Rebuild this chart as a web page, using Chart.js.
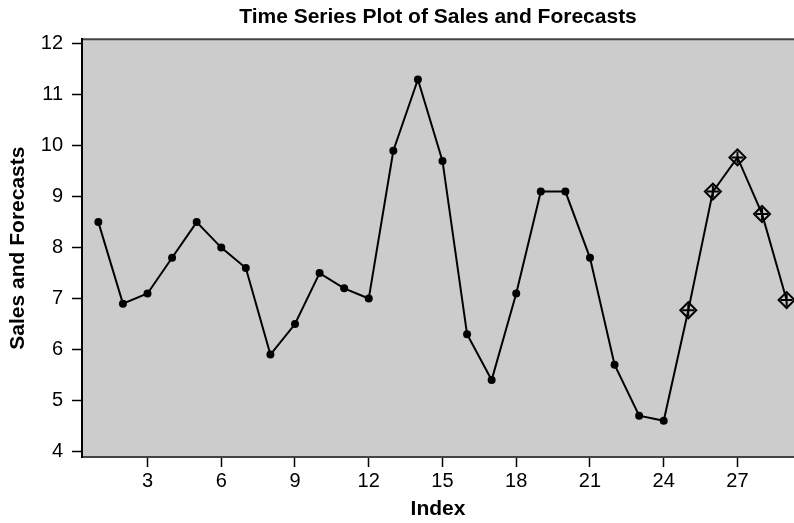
<!DOCTYPE html>
<html><head><meta charset="utf-8">
<script src="https://cdn.jsdelivr.net/npm/chart.js@4"></script>
<style>html,body{margin:0;padding:0;background:#fff}#wrap{width:794px;height:523px;position:relative}</style>
</head><body><div id="wrap"><canvas id="c"></canvas></div>
<script>
const salesIndex = [1,2,3,4,5,6,7,8,9,10,11,12,13,14,15,16,17,18,19,20,21,22,23,24];
const sales = [8.5,6.9,7.1,7.8,8.5,8.0,7.6,5.9,6.5,7.5,7.2,7.0,9.9,11.3,9.7,6.3,5.4,7.1,9.1,9.1,7.8,5.7,4.7,4.6];
const forecastIndex = [25,26,27,28,29];
const forecasts = [6.77,9.1,9.77,8.66,6.97];
const xTickValues = [3,6,9,12,15,18,21,24,27];
const yTickValues = [4,5,6,7,8,9,10,11,12];

const FONT = "'Liberation Sans', Arial, sans-serif";
const allIndex = salesIndex.concat(forecastIndex);
const allValues = sales.concat(forecasts);
const linePts = allIndex.map((x, i) => ({x, y: allValues[i]}));
const fcPts = forecastIndex.map((x, i) => ({x, y: forecasts[i]}));
const nSales = sales.length;

const areaPlugin = {
  id: 'area',
  beforeDraw(chart) {
    const {ctx, chartArea: a} = chart;
    ctx.save();
    ctx.fillStyle = '#cccccc';
    ctx.fillRect(a.left, a.top, a.right - a.left, a.bottom - a.top);
    ctx.strokeStyle = '#444444';
    ctx.lineWidth = 2;
    ctx.beginPath();
    ctx.moveTo(a.left, a.top);
    ctx.lineTo(a.right, a.top);
    ctx.stroke();
    ctx.restore();
  }
};

new Chart(document.getElementById('c'), {
  type: 'line',
  data: {
    datasets: [
      {
        data: linePts,
        borderColor: '#000',
        borderWidth: 2,
        backgroundColor: '#000',
        pointRadius: ctx => ctx.dataIndex < nSales ? 4 : 0,
        pointBorderWidth: 0,
        pointStyle: 'circle',
        tension: 0,
        fill: false,
        clip: false
      },
      {
        data: fcPts,
        showLine: false,
        pointStyle: 'rectRot',
        pointRadius: 8,
        pointBorderWidth: 2,
        pointBorderColor: '#000',
        pointBackgroundColor: 'rgba(0,0,0,0)',
        clip: false
      },
      {
        data: fcPts,
        showLine: false,
        pointStyle: 'cross',
        pointRadius: 6,
        pointBorderWidth: 2,
        pointBorderColor: '#000',
        pointBackgroundColor: 'rgba(0,0,0,0)',
        clip: false
      }
    ]
  },
  options: {
    responsive: true,
    maintainAspectRatio: false,
    animation: false,
    layout: {padding: 0, autoPadding: false},
    plugins: {
      legend: {display: false},
      tooltip: {enabled: false},
      title: {
        display: true,
        fullSize: false,
        text: 'Time Series Plot of Sales and Forecasts',
        color: '#000',
        font: {family: FONT, size: 21, weight: 'bold'},
        padding: {top: 4.5, bottom: 9.5}
      }
    },
    scales: {
      x: {
        type: 'linear',
        min: 0.335,
        max: 29.3,
        afterBuildTicks: s => { s.ticks = xTickValues.map(v => ({value: v})); },
        afterFit: s => { s.height = 66; },
        grid: {display: true, drawOnChartArea: false, drawTicks: true, tickLength: 10, color: '#000', tickWidth: 1.5},
        border: {display: true, color: '#444', width: 2},
        ticks: {color: '#000', font: {family: FONT, size: 20}, padding: 2, autoSkip: false, maxRotation: 0},
        title: {display: true, text: 'Index', color: '#000', font: {family: FONT, size: 21, weight: 'bold'}, padding: {top: 0, bottom: 1.5}}
      },
      y: {
        min: 3.89,
        max: 12.09,
        afterBuildTicks: s => { s.ticks = yTickValues.map(v => ({value: v})); },
        afterFit: s => { s.width = 82; },
        grid: {display: true, drawOnChartArea: false, drawTicks: true, tickLength: 10, color: '#000', tickWidth: 1.5},
        border: {display: true, color: '#000', width: 2},
        ticks: {color: '#000', font: {family: FONT, size: 20}, padding: 9},
        title: {display: true, text: 'Sales and Forecasts', color: '#000', font: {family: FONT, size: 21, weight: 'bold'}, padding: {top: 5.5, bottom: 0}}
      }
    }
  },
  plugins: [areaPlugin]
});
</script>
</body></html>
